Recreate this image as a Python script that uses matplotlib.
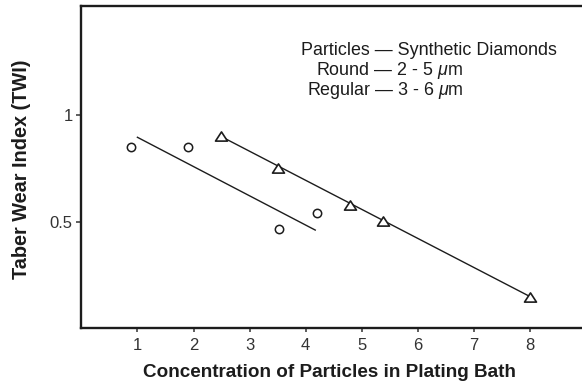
import matplotlib
matplotlib.use("Agg")
import matplotlib.pyplot as plt
from matplotlib.path import Path

# Data
round_x = [0.88, 1.91, 3.52, 4.20]
round_y = [0.849, 0.849, 0.464, 0.543]
round_fit_x = [1.0, 4.17]
round_fit_y = [0.896, 0.461]

regular_x = [2.49, 3.50, 4.79, 5.37, 8.0]
regular_y = [0.90, 0.752, 0.578, 0.503, 0.149]
regular_fit_x = [2.49, 8.0]
regular_fit_y = [0.90, 0.149]

xticks = [1, 2, 3, 4, 5, 6, 7, 8]
yticks = [0.5, 1]
ytick_labels = ["0.5", "1"]

plt.rcParams['font.family'] = ['Liberation Sans', 'DejaVu Sans']
plt.rcParams['mathtext.fontset'] = 'custom'
plt.rcParams['mathtext.it'] = 'Liberation Sans:italic'
plt.rcParams['mathtext.rm'] = 'Liberation Sans'

W, H = 582, 383
fig = plt.figure(figsize=(W / 100, H / 100), dpi=100)
left_px, bottom_px, top_px = 81.3, 328.4, 6.0
ax = fig.add_axes([left_px / W, 1 - bottom_px / H, 1 - left_px / W, (bottom_px - top_px) / H])

ink = '#1c1c1c'
tri = Path([(-1, -0.77), (1, -0.77), (0, 0.77), (-1, -0.77)],
           [Path.MOVETO, Path.LINETO, Path.LINETO, Path.CLOSEPOLY])

ax.plot(round_fit_x, round_fit_y, color=ink, lw=1.0)
ax.plot(regular_fit_x, regular_fit_y, color=ink, lw=1.0)
ax.plot(round_x, round_y, 'o', mfc='white', mec=ink, ms=6, mew=1.1, ls='none')
ax.plot(regular_x, regular_y, marker=tri, mfc='white', mec=ink, ms=8.6, mew=1.2, ls='none')

ax.set_xlim(0, (W - left_px) / 56.1)
ax.set_ylim(0, (bottom_px - top_px) / 213.3)
ax.set_xticks(xticks)
ax.set_xticklabels([str(t) for t in xticks])
ax.set_yticks(yticks)
ax.set_yticklabels(ytick_labels)
ax.tick_params(axis='x', direction='out', length=3.2, width=1.1, colors='#333333',
               labelsize=12, pad=3.5)
ax.tick_params(axis='y', direction='out', length=3.8, width=1.1, colors='#333333',
               labelsize=12, pad=2.5)
for s in ['left', 'bottom', 'top']:
    ax.spines[s].set_linewidth(1.7)
    ax.spines[s].set_color(ink)
ax.spines['right'].set_visible(False)

fig.text(329.5 / W, (H - 377) / H, "Concentration of Particles in Plating Bath",
         fontsize=13.6, fontweight='bold', color=ink, ha='center', va='baseline')
fig.text(21.5 / W, 1 - 169.5 / H, "Taber Wear Index (TWI)", fontsize=14.3,
         fontweight='bold', color=ink, ha='center', va='center', rotation=90)

ax.text(3.91, 1.302, "Particles \u2014 Synthetic Diamonds", fontsize=12.9, color=ink,
        ha='left', va='center')
ax.text(4.18, 1.208, "Round \u2014 2 - 5 $\\mu$m", fontsize=12.9, color=ink,
        ha='left', va='center')
ax.text(4.02, 1.114, "Regular \u2014 3 - 6 $\\mu$m", fontsize=12.9, color=ink,
        ha='left', va='center')

fig.savefig("out.png", dpi=100)
